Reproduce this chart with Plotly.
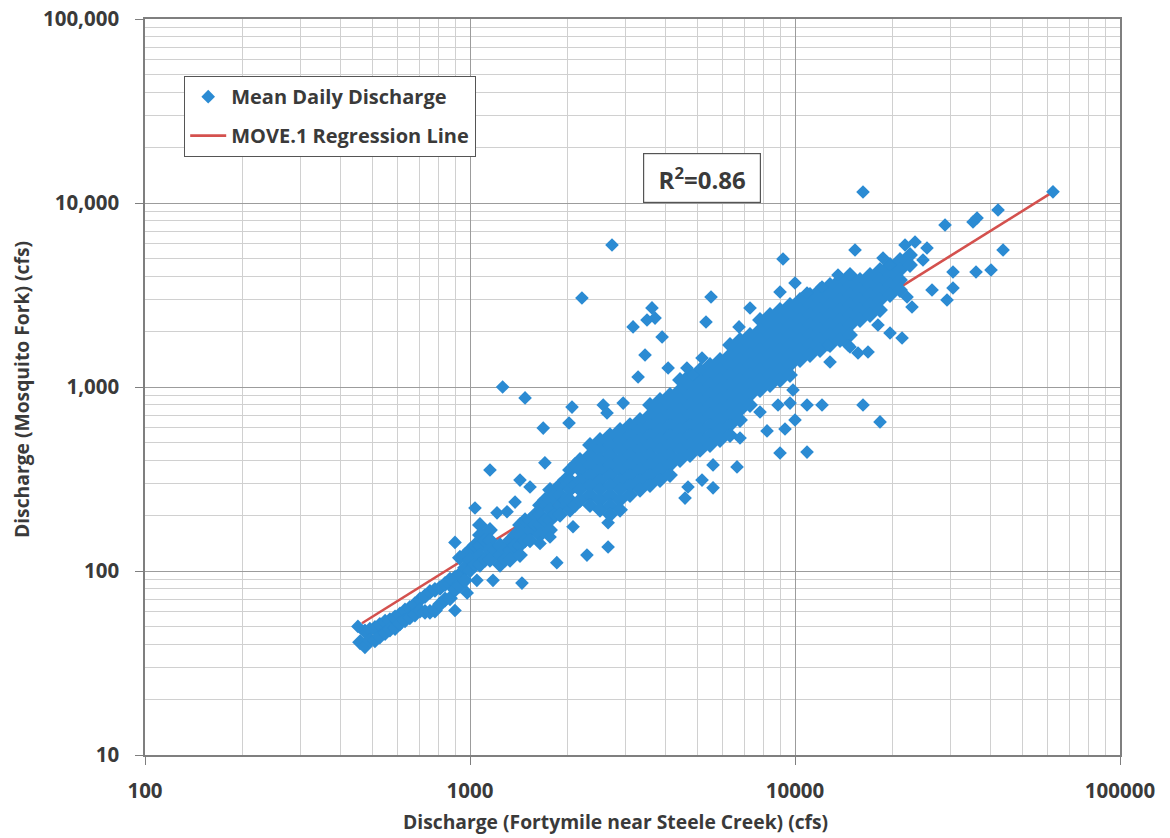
import plotly.graph_objects as go

# ---------------------------------------------------------------
# Mean daily discharge pairs (cfs): Fortymile near Steele Creek (x)
# versus Mosquito Fork (y). Columns of days sharing a similar x.
# ---------------------------------------------------------------

# low-flow tail
tail_x_cols = [459, 475, 492, 510, 528, 548, 567, 588, 609, 631, 653, 677,
               702, 727, 753, 780, 809, 838, 868, 899, 931, 965]
tail_y_cols = [[41], [47, 39], [48, 42], [49, 42], [51, 44], [53, 46],
               [54, 48], [56, 49], [58, 52], [61, 54], [63, 56], [66, 58],
               [70, 61], [73, 60], [77, 60], [79, 61], [81, 66], [85, 70],
               [85, 71], [92, 79], [118, 96, 83], [122, 104, 89]]

# rising limb, 1,000 - 2,100 cfs
band_x_cols = [1000, 1036, 1073, 1112, 1152, 1194, 1237, 1281, 1328, 1376,
               1425, 1477, 1530, 1585, 1642, 1701, 1763, 1826, 1892, 1961,
               2031, 2104]
band_y_cols = [[130, 115, 101], [138, 108], [178, 157, 138, 122, 108],
               [147, 115], [167, 147, 130, 115], [130], [138, 122, 108],
               [130, 115], [147, 130, 115], [157, 138], [178, 157, 138, 122],
               [189, 147], [189, 167, 147], [202, 178], [228, 202, 178, 157],
               [243, 189], [276, 243, 215, 189, 167], [259, 202],
               [293, 259, 228, 202], [312, 243], [354, 312, 276, 243, 215],
               [377, 293, 228]]

# main body of the record, 2,100 - 23,000 cfs
core_x_cols = [2180, 2340, 2512, 2697, 2895, 3107, 3335, 3580, 3843, 4125,
               4428, 4753, 5102, 5477, 5879, 6310, 6774, 7271, 7805, 8378,
               8993, 9653, 10362, 11123, 11940, 12816, 13757, 14768, 15852,
               17016, 18265, 19606, 21046, 22591]
core_y_cols = [
    [401, 354, 312, 276, 243],
    [484, 427, 377, 332, 293, 259, 228],
    [515, 455, 401, 354, 312, 276, 243, 215],
    [548, 484, 427, 377, 332, 293, 259, 228, 202],
    [584, 515, 455, 401, 354, 312, 276, 243, 215],
    [621, 548, 484, 427, 377, 332, 293, 259],
    [662, 584, 515, 455, 401, 354, 312, 276],
    [798, 704, 621, 548, 484, 427, 377, 332, 293],
    [850, 750, 662, 584, 515, 455, 401, 354, 312],
    [905, 798, 704, 621, 548, 484, 427, 377, 332],
    [1092, 963, 850, 750, 662, 584, 515, 455, 401],
    [1162, 1025, 905, 798, 704, 621, 548, 484, 427],
    [1237, 1092, 963, 850, 750, 662, 584, 515, 455],
    [1317, 1162, 1025, 905, 798, 704, 621, 548, 484],
    [1402, 1237, 1092, 963, 850, 750, 662, 584, 515],
    [1692, 1493, 1317, 1162, 1025, 905, 798, 704, 621, 548],
    [1801, 1589, 1402, 1237, 1092, 963, 850, 750, 662],
    [1917, 1692, 1493, 1317, 1162, 1025, 905, 798],
    [2313, 2041, 1801, 1589, 1402, 1237, 1092, 963],
    [2462, 2173, 1917, 1692, 1493, 1317, 1162, 1025],
    [2621, 2313, 2041, 1801, 1589, 1402, 1237, 1092],
    [2790, 2462, 2173, 1917, 1692, 1493, 1317, 1162],
    [2971, 2621, 2313, 2041, 1801, 1589, 1402],
    [3162, 2790, 2462, 2173, 1917, 1692, 1493],
    [3367, 2971, 2621, 2313, 2041, 1801, 1589],
    [3585, 3162, 2790, 2462, 2173, 1917, 1692],
    [3816, 3367, 2971, 2621, 2313, 2041, 1801],
    [4062, 3585, 3162, 2790, 2462, 2173, 1917],
    [3816, 3367, 2971, 2621, 2313],
    [4062, 3585, 3162, 2790, 2462],
    [4325, 3816, 3367, 2971, 2621],
    [4604, 4062, 3585, 3162],
    [4901, 4325, 3816, 3367],
    [5217, 4604],
]

# scattered days away from the main body
scatter_x = [452, 1260, 1477, 2060, 2017, 1680, 2570, 2960, 2640, 1152, 1425,
             1530, 1700, 1376, 1036, 1211, 1300, 899, 2290, 2660, 1850, 2075,
             2660, 1642, 1763, 1050, 1177, 1445, 980, 899, 868, 2735, 2210,
             3630, 3710, 3505, 3175, 3900, 3456, 3290, 4070, 4650, 4856, 5175,
             5516, 5323, 6727, 7271, 8993, 9186, 15300, 10000, 10890, 12110,
             13563, 14768, 7805, 8866, 9653, 10890, 12110, 10000, 9317, 8202,
             8993, 10890, 6774, 6632, 5595, 5175, 5595, 4588, 4686, 12635,
             14560, 12816, 9859, 16190, 28950, 36320, 35300, 42140, 43670,
             30630, 36060, 40100, 26400, 30630, 29360, 22120, 22910, 18000,
             19606, 21350, 14768, 15628, 16776, 16190, 18265, 21805, 23406,
             25480, 24765, 18657, 19606, 62200]
scatter_y = [50, 1000, 872, 778, 637, 598, 798, 818, 722, 354, 312,
             286, 387, 237, 220, 207, 210, 143, 122, 135, 111, 174,
             183, 141, 153, 89, 89, 86, 76, 61, 91, 5910, 3046,
             2690, 2370, 2313, 2120, 1870, 1493, 1133, 1268, 1268, 1162, 1437,
             3084, 2256, 2120, 2687, 3284, 4963, 5554, 3676, 3242, 3497,
             4062, 4062, 731, 798, 818, 798, 798, 662, 591, 577,
             438, 443, 528, 368, 377, 312, 283, 249, 286, 1692,
             1692, 1367, 963, 11480, 7593, 8290, 7880, 9160, 5554,
             4218, 4218, 4325, 3367, 3452, 2971, 3084, 2721, 2173,
             1965, 1847, 1650, 1531, 1550, 798, 646, 5912, 6139,
             5694, 4901, 5025, 4604, 11500]

# MOVE.1 regression line end points (cfs)
move1_x = [465, 62200]
move1_y = [52, 11500]
r_squared = 0.86

# axis ticks
x_tick_vals = [100, 1000, 10000, 100000]
x_tick_text = ["100", "1000", "10000", "100000"]
y_tick_vals = [10, 100, 1000, 10000, 100000]
y_tick_text = ["10", "100", "1,000", "10,000", "100,000"]

# ---------------------------------------------------------------
cloud_x, cloud_y = [], []
for xs, ys in ((tail_x_cols, tail_y_cols), (band_x_cols, band_y_cols),
               (core_x_cols, core_y_cols)):
    for xv, col in zip(xs, ys):
        cloud_x += [xv] * len(col)
        cloud_y += col

FONT = "'Open Sans', Lato, sans-serif"
TEXT = "#3a3a3a"
BLUE = "#2b8bd3"
RED = "#d4514e"

fig = go.Figure()

fig.add_trace(go.Scatter(
    x=move1_x, y=move1_y, mode="lines",
    name="MOVE.1 Regression Line",
    line=dict(color=RED, width=2.6),
    legendgroup="b", legendrank=2,
))

# densely packed days: overlapping diamonds form a solid band
fig.add_trace(go.Scatter(
    x=cloud_x, y=cloud_y, mode="markers",
    name="Mean Daily Discharge", showlegend=False,
    marker=dict(symbol="diamond", size=12.2, color=BLUE, line=dict(width=0)),
    legendgroup="a",
))

fig.add_trace(go.Scatter(
    x=scatter_x, y=scatter_y, mode="markers",
    name="Mean Daily Discharge",
    marker=dict(symbol="diamond", size=10.5, color=BLUE, line=dict(width=0)),
    legendgroup="a", legendrank=1,
))

axis_common = dict(
    type="log",
    automargin=False,
    showline=True, linecolor="#7f7f7f", linewidth=1.5, mirror=True,
    ticks="outside", ticklen=8, tickcolor="#7f7f7f",
    showgrid=True, gridcolor="#9c9c9c", gridwidth=1,
    minor=dict(dtick="D1", showgrid=True, gridcolor="#d0d0d0", gridwidth=1,
               ticks=""),
    tickfont=dict(family=FONT, size=20.5, color=TEXT, weight="bold"),
    tickmode="array",
    zeroline=False,
)

fig.update_xaxes(range=[2, 5], tickvals=x_tick_vals, ticktext=x_tick_text,
                 ticklabelstandoff=9, **axis_common)
fig.update_yaxes(range=[1, 5], tickvals=y_tick_vals, ticktext=y_tick_text,
                 ticklabelstandoff=12, **axis_common)

fig.update_layout(
    width=1170, height=838,
    margin=dict(l=145, r=50, t=19, b=83, autoexpand=False),
    paper_bgcolor="white", plot_bgcolor="white",
    showlegend=True,
    legend=dict(
        x=0.04, y=0.9226, xanchor="left", yanchor="top",
        bgcolor="white", bordercolor="#555555", borderwidth=1.2,
        font=dict(family=FONT, size=20, color=TEXT, weight="bold"),
        tracegroupgap=10, itemwidth=36,
    ),
    annotations=[
        dict(text=f"R<sup>2</sup>={r_squared:.2f}", xref="paper", yref="paper",
             x=0.571, y=0.7845, xanchor="center", yanchor="middle",
             showarrow=False, width=114, height=46,
             bordercolor="#555555", borderwidth=1.2, bgcolor="white",
             font=dict(family=FONT, size=24, color=TEXT, weight="bold")),
        dict(text="Discharge (Fortymile near Steele Creek) (cfs)",
             xref="paper", yref="paper", x=0.483, y=-0.091,
             xanchor="center", yanchor="middle", showarrow=False,
             font=dict(family=FONT, size=19.3, color=TEXT, weight="bold")),
        dict(text="Discharge (Mosquito Fork) (cfs)",
             xref="paper", yref="paper", x=-0.126, y=0.496, textangle=-90,
             xanchor="center", yanchor="middle", showarrow=False,
             font=dict(family=FONT, size=19.3, color=TEXT, weight="bold")),
    ],
)

fig.write_html("out.html")
